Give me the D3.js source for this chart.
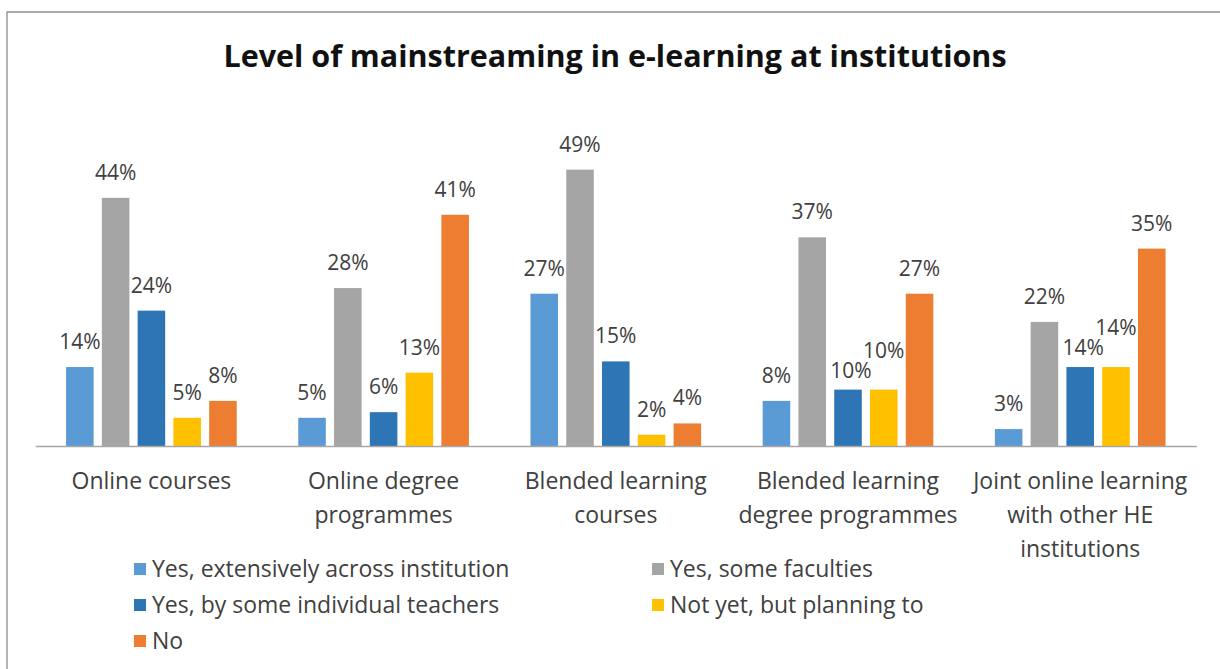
<!DOCTYPE html>
<html>
<head>
<meta charset="utf-8">
<script src="https://cdn.jsdelivr.net/npm/d3@7"></script>
<style>
  body { margin: 0; background: #fff; }
  svg { display: block; }
  text { font-family: "Open Sans", Lato, sans-serif; fill: #404040; }
</style>
</head>
<body>
<svg id="chart" width="1220" height="669"></svg>
<script>
// categories and the way their tick labels break into lines
var categories = ["Online courses", "Online degree programmes", "Blended learning courses",
  "Blended learning degree programmes", "Joint online learning with other HE institutions"];
var tickLines = [["Online courses"], ["Online degree", "programmes"], ["Blended learning", "courses"],
  ["Blended learning", "degree programmes"], ["Joint online learning", "with other HE", "institutions"]];

// series (share of institutions)
var seriesNames = ["Yes, extensively across institution", "Yes, some faculties",
  "Yes, by some individual teachers", "Not yet, but planning to", "No"];
var extensively = [0.14, 0.05, 0.27, 0.08, 0.03];
var someFaculties = [0.44, 0.28, 0.49, 0.37, 0.22];
var individualTeachers = [0.24, 0.06, 0.15, 0.10, 0.14];
var planningTo = [0.05, 0.13, 0.02, 0.10, 0.14];
var no = [0.08, 0.41, 0.04, 0.27, 0.35];

var colors = ["#5b9bd5", "#a5a5a5", "#2e75b6", "#ffc000", "#ed7d31"];

var seriesValues = [extensively, someFaculties, individualTeachers, planningTo, no];
var rows = categories.map(function(c, i) {
  return { cat: c, lines: tickLines[i], vals: seriesValues.map(function(s) { return s[i]; }) };
});

// labels that were moved by hand in the original (category index, series index)
var labelNudge = { "3-2": [3, 6], "3-3": [0, -14], "4-2": [3, 6], "4-3": [0, -14] };

var svg = d3.select("#chart");
svg.append("rect").attr("width", 1220).attr("height", 669).attr("fill", "#fff");

// frame (only the top and left edges are in the picture)
svg.append("path")
  .attr("d", "M7,669V12H1220")
  .attr("fill", "none")
  .attr("stroke", "#8c8c8c")
  .attr("stroke-width", 1.3);

svg.append("text")
  .attr("x", 615)
  .attr("y", 67)
  .attr("text-anchor", "middle")
  .style("font-size", "30.5px")
  .style("font-weight", "bold")
  .style("fill", "#111")
  .text("Level of mainstreaming in e-learning at institutions");

var x0 = d3.scaleBand().domain(categories).range([35.3, 1196.3]);
var x1 = d3.scaleBand().domain(seriesNames).range([0, x0.bandwidth()])
  .paddingInner(0.23).paddingOuter(0.86);
var y = d3.scaleLinear().domain([0, 0.6]).range([446, 107.6]);

var g = svg.append("g");

var groups = g.selectAll("g.cat")
  .data(rows)
  .enter()
  .append("g")
  .attr("class", "cat")
  .attr("transform", function(d) { return "translate(" + x0(d.cat) + ",0)"; });

groups.selectAll("rect")
  .data(function(d) { return d.vals.map(function(v, j) { return { v: v, j: j }; }); })
  .enter()
  .append("rect")
  .attr("x", function(d) { return x1(seriesNames[d.j]); })
  .attr("width", x1.bandwidth())
  .attr("y", function(d) { return y(d.v); })
  .attr("height", function(d) { return y(0) - y(d.v); })
  .attr("fill", function(d) { return colors[d.j]; });

groups.each(function(row, i) {
  d3.select(this).selectAll("text.lbl")
    .data(row.vals)
    .enter()
    .append("text")
    .attr("class", "lbl")
    .attr("text-anchor", "middle")
    .attr("x", function(v, j) {
      var n = labelNudge[i + "-" + j] || [0, 0];
      return x1(seriesNames[j]) + x1.bandwidth() / 2 + n[0];
    })
    .attr("y", function(v, j) {
      var n = labelNudge[i + "-" + j] || [0, 0];
      return y(v) - 18 + n[1];
    })
    .style("font-size", "21px")
    .text(function(v) { return d3.format(".0%")(v); });
});

// category axis
var xAxis = g.append("g")
  .attr("transform", "translate(0," + y(0) + ")")
  .call(d3.axisBottom(x0).tickSize(0).tickSizeOuter(0).tickFormat(""));
xAxis.select(".domain").attr("stroke", "#a6a6a6").attr("stroke-width", 1.5);

xAxis.selectAll(".tick").each(function(cat, i) {
  var t = d3.select(this).append("text")
    .attr("text-anchor", "middle")
    .attr("y", 43)
    .style("font-size", "23px");
  tickLines[i].forEach(function(line, k) {
    t.append("tspan").attr("x", 0).attr("dy", k === 0 ? 0 : 34).text(line);
  });
});

// legend, two columns
var legend = svg.append("g").selectAll("g")
  .data(seriesNames)
  .enter()
  .append("g")
  .attr("transform", function(d, i) {
    return "translate(" + (i % 2 === 0 ? 134 : 652) + "," + (569 + Math.floor(i / 2) * 36) + ")";
  });
legend.append("rect")
  .attr("y", -6)
  .attr("width", 12)
  .attr("height", 12)
  .attr("fill", function(d, i) { return colors[i]; });
legend.append("text")
  .attr("x", 18)
  .attr("y", 8)
  .style("font-size", "23px")
  .text(function(d) { return d; });
</script>
</body>
</html>
